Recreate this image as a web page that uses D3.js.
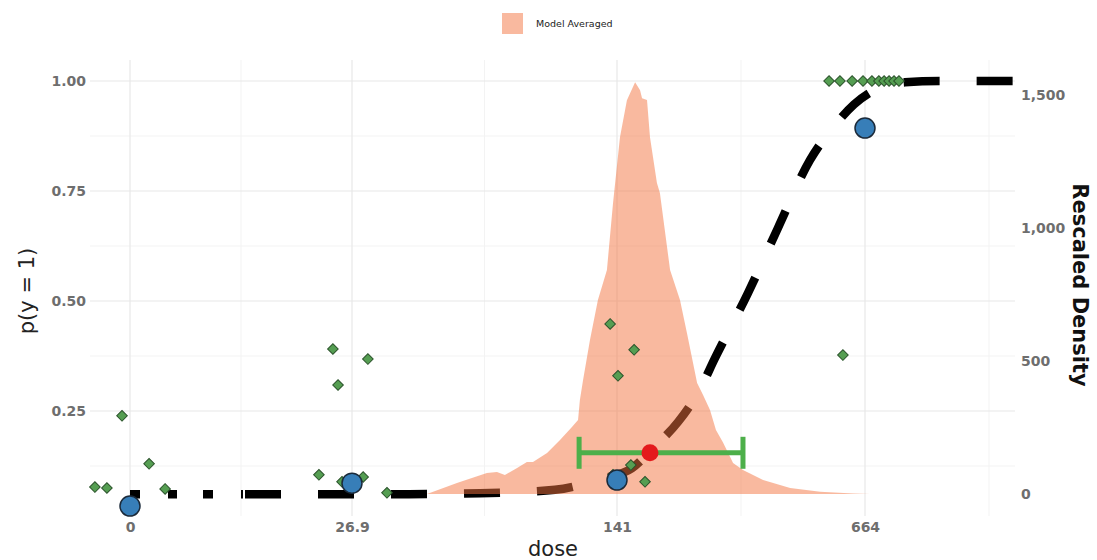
<!DOCTYPE html>
<html>
<head>
<meta charset="utf-8">
<script src="https://cdn.jsdelivr.net/npm/d3@7"></script>
<style>
  html, body { margin: 0; padding: 0; background: #fff; }
  svg { display: block; font-family: "DejaVu Sans", sans-serif; }
</style>
</head>
<body>
<svg id="chart" width="1097" height="560"></svg>
<script>
// x positions are in axis units: 0,1,2,3 are the labelled dose breaks
const doseBreaks = [0, 1, 2, 3];
const doseLabels = ['0', '26.9', '141', '664'];
const probBreaks = [0.25, 0.5, 0.75, 1.0];
const probMinor = [0.125, 0.375, 0.625, 0.875];
const doseMinor = [0.5, 1.5, 2.5, 3.5];
const densBreaks = [0, 500, 1000, 1500];

// model averaged curve
const curveU = [0, 0.5, 1.0, 1.181, 1.483, 1.766, 1.936, 2.060, 2.153, 2.246, 2.335, 2.395, 2.528, 2.649, 2.778, 2.879, 2.956, 3.060, 3.161, 3.302, 3.597];
const curveP = [0.061, 0.061, 0.061, 0.061, 0.063, 0.071, 0.095, 0.12, 0.17, 0.225, 0.30, 0.37, 0.518, 0.666, 0.82, 0.90, 0.947, 0.985, 0.997, 1.0, 1.0];

// rescaled density (right axis)
const densU = [1.283, 1.396, 1.509, 1.547, 1.577, 1.623, 1.660, 1.683, 1.736, 1.785, 1.830, 1.853, 1.860, 1.872, 1.898, 1.928, 1.962, 1.985, 2.012, 2.040, 2.073, 2.093, 2.101, 2.121, 2.133, 2.161, 2.173, 2.214, 2.254, 2.282, 2.323, 2.347, 2.375, 2.399, 2.427, 2.468, 2.508, 2.589, 2.698, 2.819, 2.952, 3.020];
const densD = [0, 41, 79, 83, 71, 98, 120, 120, 154, 203, 252, 278, 353, 429, 579, 729, 842, 1093, 1341, 1480, 1548, 1518, 1488, 1481, 1341, 1169, 1132, 842, 729, 605, 417, 372, 316, 241, 195, 117, 90, 53, 23, 8, 2, 0];

// jittered observations (green diamonds)
const obsU = [-0.158, -0.104, -0.036, 0.086, 0.158, 0.851, 0.914, 0.937, 0.955, 1.042, 1.060, 1.132,
  1.974, 1.985, 2.004, 2.056, 2.069, 2.113, 2.911,
  2.855, 2.899, 2.948, 2.992, 3.028, 3.056, 3.077, 3.097, 3.117, 3.137];
const obsP = [0.077, 0.075, 0.239, 0.130, 0.073, 0.105, 0.391, 0.309, 0.089, 0.100, 0.368, 0.064,
  0.448, 0.105, 0.330, 0.127, 0.389, 0.089, 0.377,
  1, 1, 1, 1, 1, 1, 1, 1, 1, 1];

// group means (blue circles)
const meanU = [0, 1, 2, 3];
const meanP = [0.034, 0.086, 0.093, 0.893];

// BMD estimate and interval
const bmdU = 2.133;
const bmdP = 0.155;
const bmdLower = 1.857;
const bmdUpper = 2.508;

const legendLabel = 'Model Averaged';

const panel = { left: 90, right: 1015, top: 60, bottom: 516 };
const svg = d3.select('#chart');

const x = d3.scaleLinear().domain(doseBreaks).range([130, 352, 617, 865]);
const y = d3.scaleLinear().domain([0, 1]).range([521, 81]);
const yR = d3.scaleLinear().domain([0, 1500]).range([494, 95]);

// grid
const grid = svg.append('g');
grid.selectAll('.hmin').data(probMinor).join('line')
  .attr('x1', panel.left).attr('x2', panel.right)
  .attr('y1', d => y(d)).attr('y2', d => y(d))
  .attr('stroke', '#f3f3f3').attr('stroke-width', 1);
grid.selectAll('.vmin').data(doseMinor).join('line')
  .attr('y1', panel.top).attr('y2', panel.bottom)
  .attr('x1', d => x(d)).attr('x2', d => x(d))
  .attr('stroke', '#f3f3f3').attr('stroke-width', 1);
grid.selectAll('.hmaj').data(probBreaks).join('line')
  .attr('x1', panel.left).attr('x2', panel.right)
  .attr('y1', d => y(d)).attr('y2', d => y(d))
  .attr('stroke', '#e8e8e8').attr('stroke-width', 1.2);
grid.selectAll('.vmaj').data(doseBreaks).join('line')
  .attr('y1', panel.top).attr('y2', panel.bottom)
  .attr('x1', d => x(d)).attr('x2', d => x(d))
  .attr('stroke', '#e8e8e8').attr('stroke-width', 1.2);

// dashed curve, drawn under the translucent density
const dash = [10, 28, 9, 26, 10, 28, 2, 2];
for (let i = 0; i < 30; i += 1) dash.push(36, 37);
const line = d3.line()
  .x((d, i) => x(curveU[i]))
  .y(d => y(d))
  .curve(d3.curveMonotoneX);
svg.append('path')
  .attr('d', line(curveP))
  .attr('fill', 'none')
  .attr('stroke', '#000')
  .attr('stroke-width', 8.5)
  .attr('stroke-dasharray', dash.join(' '));

// density
const area = d3.area()
  .x((d, i) => x(densU[i]))
  .y0(yR(0))
  .y1(d => yR(d));
svg.append('path')
  .attr('d', area(densD))
  .attr('fill', '#f4733f')
  .attr('fill-opacity', 0.5);

// observations
svg.append('g').selectAll('path').data(obsP).join('path')
  .attr('d', d3.symbol(d3.symbolSquare, 56)())
  .attr('transform', (d, i) => `translate(${x(obsU[i])},${y(d)}) rotate(45)`)
  .attr('fill', '#559e52')
  .attr('stroke', '#2b532b')
  .attr('stroke-width', 1);

// group means
svg.append('g').selectAll('circle').data(meanP).join('circle')
  .attr('cx', (d, i) => x(meanU[i]))
  .attr('cy', d => y(d))
  .attr('r', 10)
  .attr('fill', '#377eb8')
  .attr('stroke', '#1b2a3a')
  .attr('stroke-width', 1.5);

// interval
const eb = svg.append('g').attr('stroke', '#4daf4a').attr('stroke-width', 5);
eb.append('line').attr('x1', x(bmdLower)).attr('x2', x(bmdUpper)).attr('y1', y(bmdP)).attr('y2', y(bmdP));
eb.selectAll('.cap').data([bmdLower, bmdUpper]).join('line')
  .attr('x1', d => x(d)).attr('x2', d => x(d))
  .attr('y1', y(bmdP) - 16).attr('y2', y(bmdP) + 16);
svg.append('circle')
  .attr('cx', x(bmdU)).attr('cy', y(bmdP)).attr('r', 8.5)
  .attr('fill', '#e41a1c');

// axes
const tickStyle = g => {
  g.select('.domain').remove();
  g.selectAll('text')
    .attr('fill', '#6e6e6e')
    .attr('font-size', 14)
    .attr('font-weight', 'bold')
    .attr('font-family', 'DejaVu Sans, sans-serif');
};
svg.append('g').attr('transform', 'translate(86,0)')
  .call(d3.axisLeft(y).tickValues(probBreaks).tickFormat(d3.format('.2f')).tickSize(0).tickPadding(0))
  .call(tickStyle);
svg.append('g').attr('transform', 'translate(1021,0)')
  .call(d3.axisRight(yR).tickValues(densBreaks).tickFormat(d3.format(',')).tickSize(0).tickPadding(0))
  .call(tickStyle);
svg.append('g').attr('transform', 'translate(0,520)')
  .call(d3.axisBottom(x).tickValues(doseBreaks).tickFormat((d, i) => doseLabels[i]).tickSize(0).tickPadding(2))
  .call(tickStyle);

// titles
svg.append('text')
  .attr('transform', 'translate(34,291) rotate(-90)')
  .attr('text-anchor', 'middle')
  .attr('font-size', 21)
  .attr('fill', '#222')
  .text('p(y = 1)');
svg.append('text')
  .attr('x', 553).attr('y', 556)
  .attr('text-anchor', 'middle')
  .attr('font-size', 21)
  .attr('fill', '#222')
  .text('dose');
svg.append('text')
  .attr('transform', 'translate(1073,285) rotate(90)')
  .attr('text-anchor', 'middle')
  .attr('font-size', 21)
  .attr('font-weight', 'bold')
  .attr('fill', '#111')
  .text('Rescaled Density');

// legend
svg.append('rect')
  .attr('x', 502).attr('y', 13).attr('width', 21).attr('height', 21)
  .attr('fill', '#f4733f').attr('fill-opacity', 0.5);
svg.append('text')
  .attr('x', 536).attr('y', 24)
  .attr('dominant-baseline', 'middle')
  .attr('font-size', 9.5)
  .attr('fill', '#222')
  .text(legendLabel);
</script>
</body>
</html>
